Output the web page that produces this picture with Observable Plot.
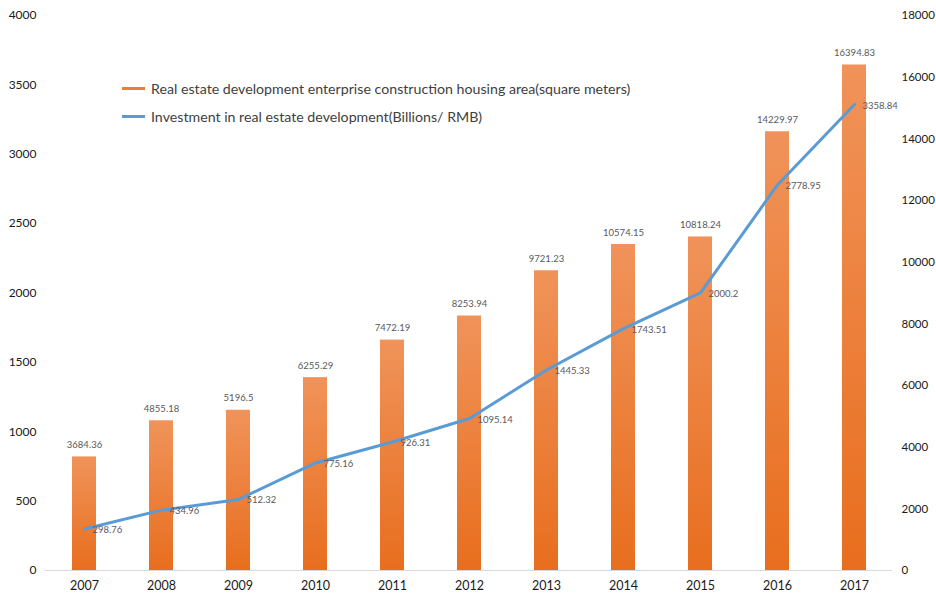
<!DOCTYPE html>
<html>
<head>
<meta charset="utf-8">
<script src="https://cdn.jsdelivr.net/npm/d3@7"></script>
<script src="https://cdn.jsdelivr.net/npm/@observablehq/plot@0.6"></script>
<style>
  html, body { margin: 0; padding: 0; background: #fff; }
  #wrap { position: relative; width: 936px; height: 596px; font-family: Lato, "Open Sans", sans-serif; }
  .legend { position: absolute; left: 122px; font-size: 14.2px; color: #404040; display: flex; align-items: center; white-space: nowrap; }
  .legend .sw { display: inline-block; width: 23px; height: 3px; margin-right: 6px; }
</style>
</head>
<body>
<div id="wrap"></div>
<script>
const years = ["2007","2008","2009","2010","2011","2012","2013","2014","2015","2016","2017"];
const housingArea = [3684.36, 4855.18, 5196.5, 6255.29, 7472.19, 8253.94, 9721.23, 10574.15, 10818.24, 14229.97, 16394.83];
const investment = [298.76, 434.96, 512.32, 775.16, 926.31, 1095.14, 1445.33, 1743.51, 2000.2, 2778.95, 3358.84];
const leftTicks = [0, 500, 1000, 1500, 2000, 2500, 3000, 3500, 4000];
const rightTicks = [0, 2000, 4000, 6000, 8000, 10000, 12000, 14000, 16000, 18000];
const seriesNames = ["Real estate development enterprise construction housing area(square meters)", "Investment in real estate development(Billions/ RMB)"];
const colors = {bar: "#ED7D31", line: "#5B9BD5"};

const ratio = 18000 / 4000;
const bars = years.map((y, i) => ({year: y, v: housingArea[i]}));
const pts = years.map((y, i) => ({year: y, v: investment[i], s: investment[i] * ratio}));

const chart = Plot.plot({
  width: 936,
  height: 596,
  marginLeft: 45,
  marginRight: 44,
  marginTop: 15,
  marginBottom: 26,
  style: {fontFamily: "Lato, 'Open Sans', sans-serif", background: "#fff"},
  x: {domain: years, paddingInner: 0.69, paddingOuter: 0.345, label: null},
  y: {domain: [0, 18000], label: null},
  marks: [
    Plot.ruleY([0], {stroke: "#d9d9d9", strokeWidth: 1}),
    Plot.barY(bars, {x: "year", y: "v", fill: "url(#barGrad)"}),
    Plot.text(bars, {x: "year", y: "v", text: d => String(d.v), dy: -12, fontSize: 9.5, fill: "#595959"}),
    Plot.line(pts, {x: "year", y: "s", stroke: colors.line, strokeWidth: 3, strokeLinejoin: "round", strokeLinecap: "round"}),
    Plot.text(pts, {x: "year", y: "s", text: d => String(d.v), dx: 8, dy: 1, textAnchor: "start", fontSize: 9.5, fill: "#595959"}),
    Plot.axisX({tickSize: 0, tickPadding: 11, fontSize: 12.5, color: "#1a1a1a", label: null}),
    Plot.axisY({anchor: "left", ticks: leftTicks.map(t => t * ratio), tickFormat: d => String(Math.round(d / ratio)), tickSize: 0, tickPadding: 9, fontSize: 12, color: "#1a1a1a", label: null}),
    Plot.axisY({anchor: "right", ticks: rightTicks, tickFormat: d => String(d), tickSize: 0, tickPadding: 9, fontSize: 11.5, color: "#1a1a1a", label: null})
  ]
});

const svg = d3.select(chart);
const defs = svg.insert("defs", ":first-child");
const g = defs.append("linearGradient").attr("id", "barGrad").attr("x1", 0).attr("y1", 0).attr("x2", 0).attr("y2", 1);
g.append("stop").attr("offset", "0%").attr("stop-color", "#F0935A");
g.append("stop").attr("offset", "100%").attr("stop-color", "#E86E1E");

const wrap = document.getElementById("wrap");
wrap.appendChild(chart);

[[seriesNames[0], colors.bar, 88], [seriesNames[1], colors.line, 116]].forEach(([name, c, y]) => {
  const d = document.createElement("div");
  d.className = "legend";
  d.style.top = (y - 10) + "px";
  d.style.height = "20px";
  d.innerHTML = `<span class="sw" style="background:${c}"></span><span>${name}</span>`;
  wrap.appendChild(d);
});
</script>
</body>
</html>
